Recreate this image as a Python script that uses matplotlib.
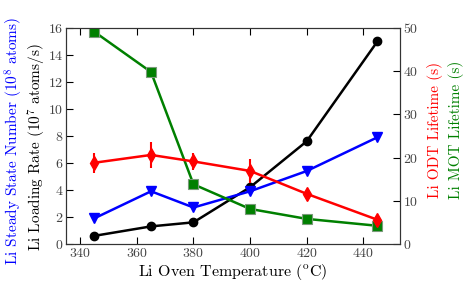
import matplotlib
matplotlib.use("Agg")
import matplotlib.pyplot as plt
import numpy as np

plt.rcParams['font.family'] = ['cmr10', 'DejaVu Serif']
plt.rcParams['mathtext.fontset'] = 'cm'
plt.rcParams['axes.formatter.use_mathtext'] = True

temps = [345, 365, 380, 400, 420, 445]
loading_rate = [0.6, 1.3, 1.6, 4.2, 7.6, 15.0]          # 1e7 atoms/s
steady_number = [1.9, 3.9, 2.7, 3.9, 5.4, 7.9]         # 1e8 atoms
odt_lifetime = [18.8, 20.6, 19.1, 16.9, 11.6, 5.6]     # s
odt_err = [2.3, 3.1, 1.9, 2.8, 0.9, 0.9]               # s
mot_lifetime = [49.1, 39.8, 13.8, 8.1, 5.8, 4.2]       # s

fig = plt.figure(figsize=(4.69, 2.88), dpi=100)
ax = fig.add_axes([0.141, 0.153, 0.712, 0.750])
ax2 = ax.twinx()

ax.plot(temps, loading_rate, color='black', lw=1.8, marker='o', ms=6, zorder=3)
ax.plot(temps, steady_number, color='blue', lw=1.8, marker='v', ms=7, zorder=3)
ax2.errorbar(temps, odt_lifetime, yerr=odt_err, color='red', lw=1.8, marker='d',
             ms=7, elinewidth=1.5, capsize=0)
ax2.plot(temps, mot_lifetime, color='green', lw=1.8, marker='s', ms=7,
         mec='#7a9a7a', mew=0.8)

ax.set_xlim(335, 453)
ax.set_ylim(0, 16)
ax2.set_ylim(0, 50)
ax.set_xticks([340, 360, 380, 400, 420, 440])
ax.set_yticks(range(0, 17, 2))
ax2.set_yticks(range(0, 51, 10))

for a in (ax, ax2):
    a.tick_params(direction='in', labelsize=10, labelcolor='#444444', length=5, pad=2)
    for s in a.spines.values():
        s.set_color('#333333')
ax.tick_params(top=True)

ax.set_xlabel(r'Li Oven Temperature ($^{\rm o}$C)', fontsize=11.5, labelpad=2)

fig.text(0.030, 0.51, r'Li Steady State Number (10$^8$ atoms)', rotation=90,
         color='blue', fontsize=11, ha='center', va='center')
fig.text(0.078, 0.49, r'Li Loading Rate (10$^7$ atoms/s)', rotation=90,
         color='black', fontsize=11, ha='center', va='center')
fig.text(0.927, 0.55, 'Li ODT Lifetime (s)', rotation=90,
         color='red', fontsize=11, ha='center', va='center')
fig.text(0.972, 0.55, 'Li MOT Lifetime (s)', rotation=90,
         color='green', fontsize=11, ha='center', va='center')

fig.savefig('out.png', dpi=100)
